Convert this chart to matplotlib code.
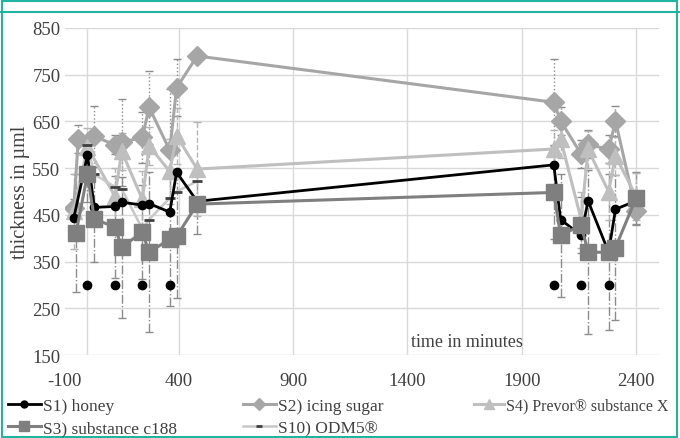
import matplotlib
matplotlib.use('Agg')
from matplotlib import pyplot as plt
from matplotlib.lines import Line2D
from matplotlib.patches import Rectangle

plt.rcParams['font.family'] = ['Liberation Serif', 'DejaVu Serif']
plt.rcParams['axes.unicode_minus'] = False

# times (minutes) and thickness values
t_s1 = [-60, 0, 30, 120, 150, 240, 270, 360, 390, 480, 2040, 2070, 2160, 2190, 2280, 2310, 2400]
s1 = [443, 578, 466, 468, 477, 471, 474, 456, 541, 479, 557, 440, 406, 480, 370, 462, 480]

t_s2 = [-60, -40, 30, 120, 150, 240, 270, 360, 390, 480, 2040, 2070, 2160, 2190, 2280, 2310, 2400]
s2 = [465, 612, 618, 600, 605, 616, 680, 588, 722, 790, 691, 651, 580, 601, 590, 651, 458]
s2_err = [20, 30, 65, 20, 93, 54, 78, 131, 61, 0, 92, 30, 30, 30, 30, 32, 30]

t_s3 = [-50, 0, 30, 120, 150, 240, 270, 360, 390, 480, 2040, 2070, 2160, 2190, 2280, 2310, 2400]
s3 = [411, 537, 441, 424, 381, 413, 370, 398, 404, 473, 498, 406, 428, 370, 370, 380, 486]
s3_err = [127, 60, 92, 110, 151, 100, 171, 142, 131, 63, 100, 131, 60, 176, 167, 156, 56]

t_s4 = [-60, 0, 120, 150, 240, 270, 360, 390, 480, 2040, 2070, 2160, 2190, 2280, 2310, 2400]
s4 = [458, 595, 490, 586, 483, 597, 543, 619, 548, 591, 612, 440, 590, 500, 576, 490]
s4_err = [80, 40, 60, 40, 60, 40, 70, 60, 100, 40, 40, 60, 40, 60, 40, 50]

t_s10 = [0, 30, 120, 150, 240, 270, 360, 390, 480]
s10 = [600, 537, 510, 505, 420, 440, 486, 500, 522]

# isolated black points (no line)
t_nd = [0, 120, 240, 360, 2040, 2160, 2280]
nd = [300, 300, 300, 300, 300, 300, 300]

x_ticks = [-100, 400, 900, 1400, 1900, 2400]
y_ticks = [150, 250, 350, 450, 550, 650, 750, 850]

fig = plt.figure(figsize=(6.8, 4.39), dpi=100)
ax = fig.add_axes([0.095, 0.189, 0.874, 0.745])
ax.set_xlim(-100, 2500)
ax.set_ylim(150, 850)

# grid
for y in y_ticks:
    ax.axhline(y, color='#d9d9d9', lw=1, zorder=0)
for x in [0] + x_ticks[1:]:
    ax.axvline(x, color='#d9d9d9', lw=1, zorder=0)

# error bars
eb2 = ax.errorbar(t_s2, s2, yerr=s2_err, fmt='none', ecolor='#8c8c8c', elinewidth=1,
                  capsize=3, zorder=1)
eb2.lines[2][0].set_linestyle(':')
eb3 = ax.errorbar(t_s3, s3, yerr=s3_err, fmt='none', ecolor='#8c8c8c', elinewidth=1,
                  capsize=3, zorder=1)
eb3.lines[2][0].set_linestyle('-.')
eb4 = ax.errorbar(t_s4, s4, yerr=s4_err, fmt='none', ecolor='#b5b5b5', elinewidth=1,
                  capsize=3, zorder=1)
eb4.lines[2][0].set_linestyle('--')

ax.plot(t_s2, s2, color='#a6a6a6', lw=2.2, marker='D', ms=10, zorder=2)
ax.plot(t_s4, s4, color='#bfbfbf', lw=2.2, marker='^', ms=12, zorder=3)
ax.plot(t_s10, s10, color='#c8c8c8', lw=1.8, marker='_', ms=7, mec='#404040', mew=2, zorder=3)
ax.plot(t_s1, s1, color='black', lw=2, marker='o', ms=6, zorder=4)
ax.plot(t_s3, s3, color='#7f7f7f', lw=2.2, marker='s', ms=11, zorder=5)
ax.plot(t_nd, nd, 'o', color='black', ms=6, zorder=4)

for s in ax.spines.values():
    s.set_visible(False)
ax.set_xticks(x_ticks)
ax.set_yticks(y_ticks)
ax.tick_params(length=0, labelsize=13.5, colors='#404040')
ax.tick_params(axis='x', pad=12)
ax.tick_params(axis='y', pad=3)
ax.set_ylabel('thickness in µml', fontsize=14.5, color='#404040')
ax.yaxis.set_label_coords(-0.058, 0.5)
ax.text(0.677, 0.04, 'time in minutes', transform=ax.transAxes, ha='center',
        va='center', fontsize=13, color='#404040')

# legend in three fixed-width columns
h_s1 = Line2D([], [], color='black', lw=2, marker='o', ms=5)
h_s3 = Line2D([], [], color='#7f7f7f', lw=2.2, marker='s', ms=7)
h_s2 = Line2D([], [], color='#a6a6a6', lw=2.2, marker='D', ms=6)
h_s10 = Line2D([], [], color='#c8c8c8', lw=1.8, marker='_', ms=5, mec='#404040', mew=2)
h_s4 = Line2D([], [], color='#bfbfbf', lw=2.2, marker='^', ms=7)
columns = [
    (8, [h_s1, h_s3], ['S1) honey', 'S3) substance c188'], 12.5),
    (243, [h_s2, h_s10], ['S2) icing sugar', 'S10) ODM5®'], 12.5),
    (474, [h_s4], ['S4) Prevor® substance X'], 11.5),
]
for xpx, hs, ls, fs in columns:
    fig.legend(hs, ls, loc='upper left', bbox_to_anchor=(xpx / 680, 0.092),
               frameon=False, fontsize=fs, handlelength=1.9, handletextpad=0.1,
               labelspacing=0.35, borderaxespad=0, borderpad=0,
               labelcolor='#404040')

# teal frame
teal = '#1fb5a0'
fig.add_artist(Rectangle((2 / 680, 1 / 439), 675 / 680, 436 / 439, transform=fig.transFigure,
                         fill=False, ec=teal, lw=1.5))
fig.add_artist(Line2D([0, 1], [1 - 13 / 439, 1 - 13 / 439], transform=fig.transFigure,
                      color=teal, lw=1.5))

fig.savefig('out.png', dpi=100)
